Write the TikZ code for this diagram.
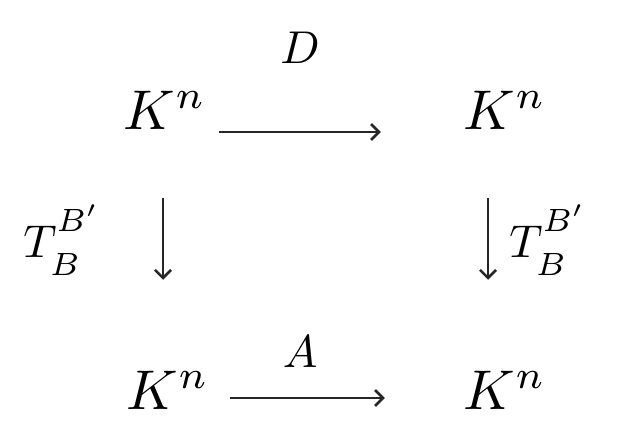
\documentclass[tikz,border=0pt]{standalone}
\usetikzlibrary{arrows.meta}
\begin{document}
\begin{tikzpicture}[x=1pt,y=-1pt,
  obj/.style={inner sep=0pt,scale=5.6},
  lbl/.style={inner sep=0pt,scale=4.6},
  arr/.style={draw=black!85,line width=2.6pt,-{Straight Barb[length=8pt,width=16pt]}}]
\useasboundingbox (0,0) rectangle (636,439);
\node[obj] (TL) at (165,110) {$K^n$};
\node[obj] (TR) at (505,110) {$K^n$};
\node[obj] (BL) at (168,390) {$K^n$};
\node[obj] (BR) at (505,390) {$K^n$};
\draw[arr,shorten <=12pt,shorten >=82pt] ([yshift=-22pt]TL.east) -- ([yshift=-22pt]TR.west);
\node[lbl] (D) at (300,48) {$D$};
\draw[arr,shorten <=20pt,shorten >=78pt] ([yshift=-8pt]BL.east) -- ([yshift=-8pt]BR.west);
\node[lbl] (A) at (300,352) {$A$};
\draw[arr,shorten <=68pt,shorten >=90pt] ([xshift=-2pt]TL.south) -- ([xshift=-5pt]BL.north);
\draw[arr,shorten <=68pt,shorten >=90pt] ([xshift=-17pt]TR.south) -- ([xshift=-17pt]BR.north);
\node[lbl] (TLb) at (62,240) {$T^{\raisebox{2pt}{$\scriptstyle B'$}}_{\raisebox{-1.5pt}{$\scriptstyle B$}}$};
\node[lbl] (TRb) at (548,240) {$T^{\raisebox{2pt}{$\scriptstyle B'$}}_{\raisebox{-1.5pt}{$\scriptstyle B$}}$};
\end{tikzpicture}
\end{document}
